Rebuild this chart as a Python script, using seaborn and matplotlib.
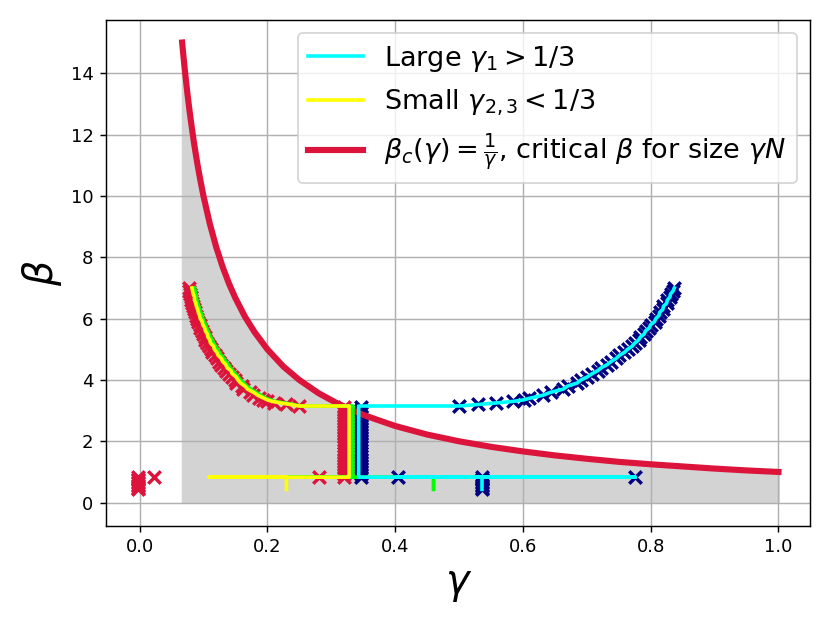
import matplotlib
matplotlib.use("Agg")
import matplotlib.pyplot as plt
import seaborn as sns

# critical curve beta_c = 1/gamma
gamma_crit = [0.0667, 0.068, 0.07, 0.072, 0.075, 0.078, 0.08, 0.085, 0.09, 0.095, 0.1, 0.11,
              0.12, 0.13, 0.14, 0.15, 0.165, 0.18, 0.2, 0.225, 0.25, 0.28, 0.31, 0.35,
              0.4, 0.45, 0.5, 0.55, 0.6, 0.65, 0.7, 0.75, 0.8, 0.85, 0.9, 0.95, 1.0]
beta_crit = [15.0, 14.71, 14.29, 13.89, 13.33, 12.82, 12.5, 11.76, 11.11, 10.53, 10.0, 9.09,
             8.33, 7.69, 7.14, 6.67, 6.06, 5.56, 5.0, 4.44, 4.0, 3.57, 3.23, 2.86,
             2.5, 2.22, 2.0, 1.82, 1.67, 1.54, 1.43, 1.33, 1.25, 1.18, 1.11, 1.05, 1.0]

# start of the sweep (low beta)
beta_start = [0.43, 0.48, 0.53, 0.58, 0.63, 0.68, 0.73, 0.78, 0.83]
large_start = [0.536] * 9
small_start = [-0.002] * 9

# jump points at beta ~ 0.83
beta_jump = [0.83, 0.83]
large_jump = [0.404, 0.776]
small_jump = [0.023, 0.281]

# symmetric phase gamma ~ 1/3
beta_sym = [0.83, 0.93, 1.03, 1.13, 1.23, 1.33, 1.43, 1.53, 1.63, 1.73, 1.83, 1.93,
            2.03, 2.13, 2.23, 2.33, 2.43, 2.53, 2.63, 2.73, 2.83, 2.93, 3.03, 3.13]
large_sym = [0.346] * 24
small_sym = [0.320] * 24

# broken phase
beta_broken = [3.15, 3.20, 3.25, 3.30, 3.35, 3.40, 3.50, 3.60, 3.70, 3.80, 3.90, 4.00,
               4.10, 4.20, 4.30, 4.40, 4.50, 4.60, 4.70, 4.80, 4.90, 5.00, 5.10, 5.20,
               5.30, 5.40, 5.50, 5.60, 5.70, 5.80, 5.90, 6.00, 6.10, 6.20, 6.30, 6.40,
               6.50, 6.60, 6.70, 6.80, 6.90, 7.00]
gamma_large = [0.500, 0.530, 0.558, 0.585, 0.601, 0.610, 0.631, 0.644, 0.663, 0.670, 0.685, 0.691,
               0.701, 0.708, 0.717, 0.723, 0.732, 0.738, 0.746, 0.751, 0.759, 0.764, 0.771, 0.775,
               0.781, 0.784, 0.790, 0.792, 0.798, 0.800, 0.806, 0.808, 0.813, 0.814, 0.819, 0.820,
               0.825, 0.826, 0.830, 0.831, 0.835, 0.837]
gamma_2 = [0.250, 0.236, 0.221, 0.208, 0.200, 0.195, 0.185, 0.178, 0.169, 0.165, 0.158, 0.154,
           0.151, 0.145, 0.143, 0.137, 0.135, 0.130, 0.128, 0.123, 0.121, 0.117, 0.116, 0.111,
           0.110, 0.107, 0.106, 0.103, 0.102, 0.099, 0.098, 0.095, 0.094, 0.092, 0.091, 0.089,
           0.088, 0.086, 0.086, 0.084, 0.083, 0.082]
gamma_3 = [0.252, 0.240, 0.226, 0.212, 0.205, 0.198, 0.190, 0.182, 0.174, 0.168, 0.163, 0.158,
           0.154, 0.150, 0.146, 0.142, 0.139, 0.135, 0.132, 0.128, 0.125, 0.122, 0.119, 0.116,
           0.114, 0.111, 0.109, 0.107, 0.105, 0.103, 0.101, 0.099, 0.098, 0.096, 0.094, 0.093,
           0.091, 0.090, 0.089, 0.088, 0.087, 0.086]
gamma_small_pts = [0.250, 0.229, 0.211, 0.200, 0.193, 0.187, 0.178, 0.173, 0.162, 0.160, 0.151, 0.149,
                   0.144, 0.140, 0.136, 0.132, 0.128, 0.125, 0.121, 0.118, 0.114, 0.112, 0.109, 0.106,
                   0.103, 0.102, 0.099, 0.098, 0.095, 0.094, 0.091, 0.090, 0.088, 0.087, 0.085, 0.084,
                   0.082, 0.081, 0.080, 0.079, 0.078, 0.077]

# line paths before the broken phase
cyan_head_g = [0.536, 0.536, 0.404, 0.776, 0.343, 0.343]
cyan_head_b = [0.43, 0.83, 0.83, 0.83, 0.83, 3.15]
yellow_head_g = [0.23, 0.23, 0.109, 0.328, 0.328]
green_head_g = [0.46, 0.46, 0.20, 0.334, 0.334]
small_head_b = [0.43, 0.83, 0.83, 0.83, 3.15]

lbl_large = r"Large $\gamma_1 > 1/3$"
lbl_small = r"Small $\gamma_{2,3} < 1/3$"
lbl_crit = r"$\beta_c(\gamma) = \frac{1}{\gamma}$, critical $\beta$ for size $\gamma N$"

fig, ax = plt.subplots(figsize=(8.3 / 1.3, 6.23 / 1.3), dpi=130)

ax.fill_between(gamma_crit, 0, beta_crit, color="lightgray", zorder=1)

navy_g = large_start + large_jump + large_sym + gamma_large
navy_b = beta_start + beta_jump + beta_sym + beta_broken
red_g = small_start + small_jump + small_sym + gamma_small_pts
red_b = beta_start + beta_jump + beta_sym + beta_broken

sns.scatterplot(x=navy_g, y=navy_b, marker="x", color="navy", s=48, linewidth=1.9, ax=ax, zorder=2)
sns.scatterplot(x=red_g, y=red_b, marker="x", color="crimson", s=48, linewidth=1.9, ax=ax, zorder=2)

sns.lineplot(x=gamma_crit, y=beta_crit, sort=False, estimator=None, color="crimson", linewidth=3.4,
             label=lbl_crit, ax=ax, zorder=2.5)

sns.lineplot(x=green_head_g + gamma_3, y=small_head_b + beta_broken, sort=False, estimator=None,
             color="lime", linewidth=2, ax=ax, zorder=3)
sns.lineplot(x=yellow_head_g + gamma_2, y=small_head_b + beta_broken, sort=False, estimator=None,
             color="yellow", linewidth=2, label=lbl_small, ax=ax, zorder=3)
sns.lineplot(x=cyan_head_g + gamma_large, y=cyan_head_b + beta_broken, sort=False, estimator=None,
             color="cyan", linewidth=2, label=lbl_large, ax=ax, zorder=3)

handles, labels = ax.get_legend_handles_labels()
order = [labels.index(l) for l in [lbl_large, lbl_small, lbl_crit]]
ax.legend([handles[i] for i in order], [labels[i] for i in order], loc="upper right", fontsize=15)

ax.grid(True)
ax.set_xlabel(r"$\gamma$", fontsize=22)
ax.set_ylabel(r"$\beta$", fontsize=22)

fig.tight_layout()
fig.savefig("out.png")
